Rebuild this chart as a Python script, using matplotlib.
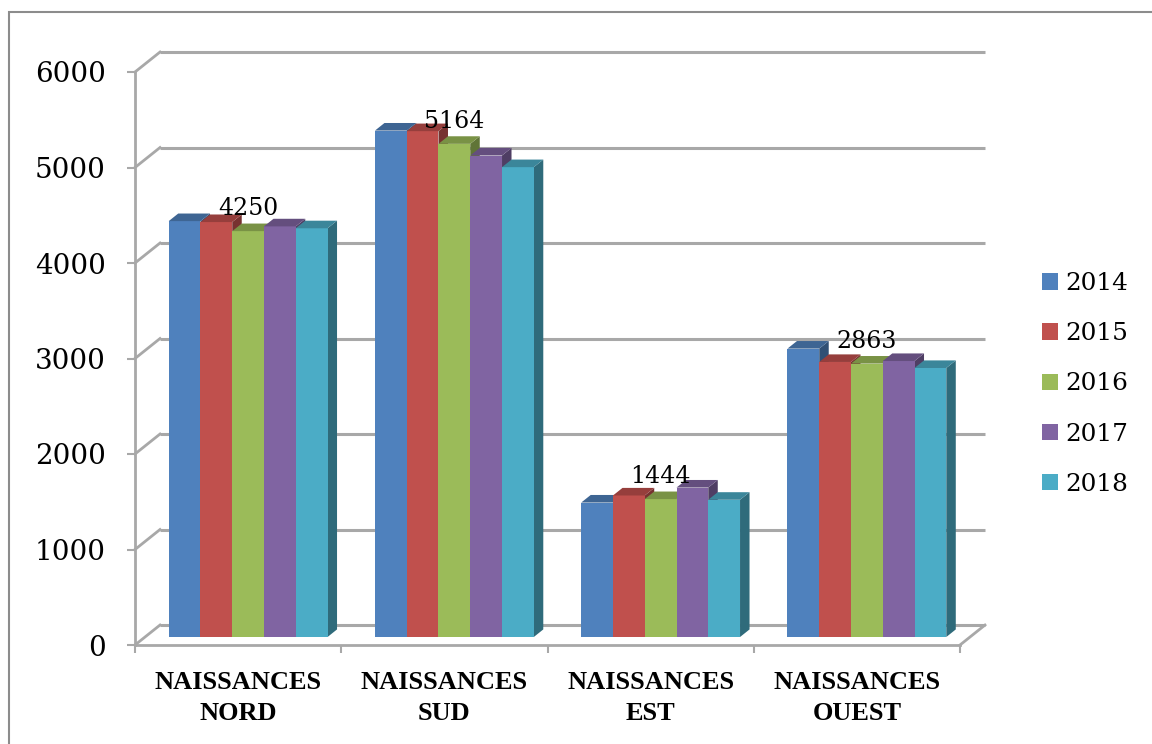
import matplotlib
matplotlib.use("Agg")
import matplotlib.pyplot as plt
from matplotlib.patches import Polygon, Rectangle, Patch
import matplotlib.colors as mcolors
import numpy as np

# ---- data -------------------------------------------------------------
categories = ["NAISSANCES\nNORD", "NAISSANCES\nSUD", "NAISSANCES\nEST", "NAISSANCES\nOUEST"]
years = ["2014", "2015", "2016", "2017", "2018"]
v2014 = [4355, 5303, 1408, 3020]
v2015 = [4345, 5297, 1482, 2880]
v2016 = [4250, 5164, 1444, 2863]
v2017 = [4300, 5042, 1565, 2890]
v2018 = [4280, 4920, 1437, 2817]
series = [v2014, v2015, v2016, v2017, v2018]
labelled_series = 2          # values printed above the 2016 bars
y_ticks = [0, 1000, 2000, 3000, 4000, 5000, 6000]

colors = ["#4F81BD", "#C0504D", "#9BBB59", "#8064A2", "#4BACC6"]

# ---- pseudo-3D geometry (depth offsets in data units) ------------------
DX = 0.1212      # horizontal shift of the back wall, category units
DY = 209.0       # vertical shift of the back wall, value units
BAR_D0 = 0.40    # depth of the bars' front plane
BAR_DD = 0.38    # depth of the bars themselves
BAR_W = 0.154
GRID_C = "#a8a8a8"

num_font = "DejaVu Serif"
cat_font = "Liberation Serif"

fig = plt.figure(figsize=(11.52, 7.44), dpi=100)
ax = fig.add_axes([135 / 1152, 99 / 744, 825 / 1152, 573 / 744])
ax.set_xlim(-0.5, 3.5)
ax.set_ylim(0, 6000)
ax.patch.set_alpha(0)


def shade(c, f):
    r, g, b = mcolors.to_rgb(c)
    return (r * f, g * f, b * f)


# back wall gridlines and left wall edges
x0, x1 = -0.5, len(categories) - 0.5
for v in y_ticks:
    ax.plot([x0 + DX, x1 + DX], [v + DY, v + DY], color=GRID_C, lw=2.2,
            clip_on=False, zorder=1, solid_capstyle="butt")
    ax.plot([x0, x0 + DX], [v, v + DY], color=GRID_C, lw=2.0,
            clip_on=False, zorder=1)
# right edge of the floor
ax.plot([x1, x1 + DX], [0, DY], color=GRID_C, lw=2.0, clip_on=False, zorder=1)

# bars: front faces via ax.bar, top and side faces as polygons
n = len(years)
xc = np.arange(len(categories))
ox, oy = BAR_D0 * DX, BAR_D0 * DY
dx, dy = BAR_DD * DX, BAR_DD * DY
z = 2
for ci in range(len(categories)):
    for si in range(n):
        val = series[si][ci]
        left = xc[ci] - n * BAR_W / 2 + si * BAR_W + ox
        right = left + BAR_W
        top = oy + val
        col = colors[si]
        # side face
        ax.add_patch(Polygon([(right, oy), (right + dx, oy + dy),
                              (right + dx, top + dy), (right, top)],
                             closed=True, fc=shade(col, 0.62), ec="none",
                             zorder=z, clip_on=False))
        ax.bar(left, val, width=BAR_W, bottom=oy, align="edge",
               color=col, edgecolor="none", zorder=z + 0.1, clip_on=False)
        # top face
        ax.add_patch(Polygon([(left, top), (right, top),
                              (right + dx, top + dy), (left + dx, top + dy)],
                             closed=True, fc=shade(col, 0.78), ec="none",
                             zorder=z + 0.2, clip_on=False))
        z += 0.5

# value labels on the 2016 series
for ci in range(len(categories)):
    val = series[labelled_series][ci]
    xm = xc[ci] - n * BAR_W / 2 + (labelled_series + 0.5) * BAR_W + ox
    ax.annotate(f"{val}", xy=(xm, oy + val), xytext=(0, 11.5),
                textcoords="offset points", ha="center", va="baseline",
                fontsize=17, family=num_font, zorder=100)

# axes styling
for side in ("top", "right"):
    ax.spines[side].set_visible(False)
for side in ("left", "bottom"):
    ax.spines[side].set_color(GRID_C)
    ax.spines[side].set_linewidth(2.0)
ax.spines["left"].set_zorder(1)
ax.spines["bottom"].set_zorder(1)

ax.set_yticks(y_ticks)
ax.set_yticklabels([str(t) for t in y_ticks], family=num_font, fontsize=20)
ax.tick_params(axis="y", length=6, width=1.5, color=GRID_C, pad=15)

ax.set_xticks(np.arange(len(categories) + 1) - 0.5)
ax.set_xticklabels([])
ax.set_xticks(xc, minor=True)
ax.set_xticklabels(categories, minor=True, family=cat_font,
                   fontweight="bold", fontsize=19, linespacing=1.45)
ax.tick_params(axis="x", which="major", length=6, width=1.5, color=GRID_C)
ax.tick_params(axis="x", which="minor", length=0, pad=18.5)

# legend
handles = [Patch(facecolor=c, edgecolor="none") for c in colors]
fig.legend(handles, years, loc="center left", bbox_to_anchor=(1042 / 1152, 360 / 744),
           frameon=False, prop={"family": num_font, "size": 17.8},
           handlelength=0.65, handleheight=0.65, handletextpad=0.3,
           labelspacing=1.1, borderpad=0, borderaxespad=0)

# outer chart frame
fig.add_artist(Rectangle((9 / 1152, -0.1), 1.2, (744 - 12) / 744 + 0.1,
                         transform=fig.transFigure, fill=False,
                         ec="#8c8c8c", lw=1.5))

fig.savefig("out.png", dpi=100)
